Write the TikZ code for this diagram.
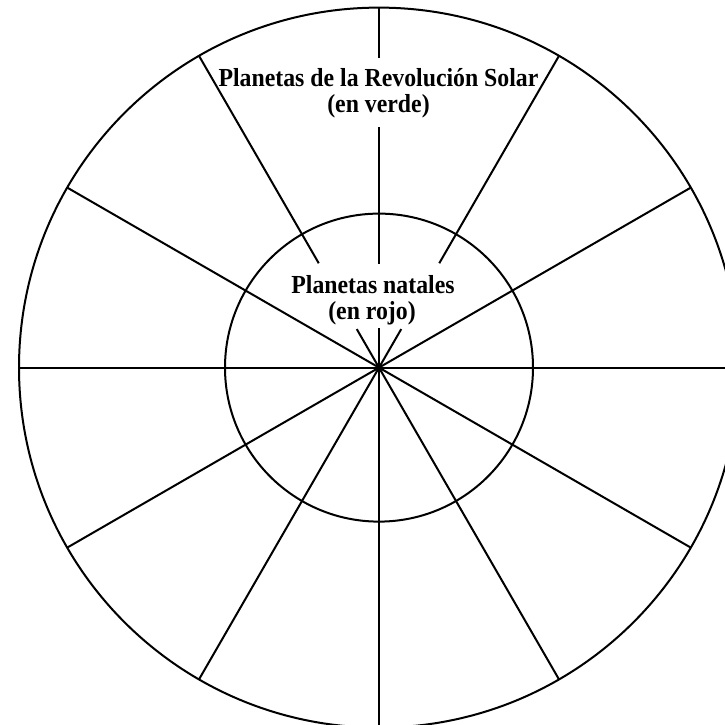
\documentclass[tikz,border=0pt]{standalone}
\usepackage{fontspec}
\setmainfont{Liberation Serif}
\newcommand\sqtext[1]{\scalebox{0.915}[1]{#1}}
\tikzset{
  wheel/.style={line width=2pt, black},
  lbl/.style={inner sep=0pt, anchor=base, font=\fontsize{26}{30}\selectfont\bfseries},
}
\begin{document}
\begin{tikzpicture}[x=1pt,y=-1pt]
\useasboundingbox (0,0) rectangle (725,724);
\clip (0,0) rectangle (725,724);
\coordinate (O) at (379,367.6);
\begin{scope}[shift={(O)}, x=1pt, y=1pt, wheel]
  \draw (0,0) circle[radius=360pt];
  \draw (0,0) circle[radius=154pt];
  \foreach \a in {0,30,150,180,210,240,270,300,330}
    \draw (0,0) -- (\a:360);
  \foreach \a in {60,120} {
    \draw (0,0) -- (\a:44.5);
    \draw (\a:120.5) -- (\a:360);
  }
  \draw (0,0) -- (90:39.6);
  \draw (90:104) -- (90:240.6);
  \draw (90:309.6) -- (90:360);
  \fill (0,0) circle[radius=3pt];
\end{scope}
\node[lbl] (rs1) at (378.5,86) {\sqtext{Planetas de la Revolución Solar}};
\node[lbl] (rs2) at (378.5,112) {\sqtext{(en verde)}};
\node[lbl] (nat1) at (373,293) {\sqtext{Planetas natales}};
\node[lbl] (nat2) at (372,319) {\sqtext{(en rojo)}};
\end{tikzpicture}
\end{document}
